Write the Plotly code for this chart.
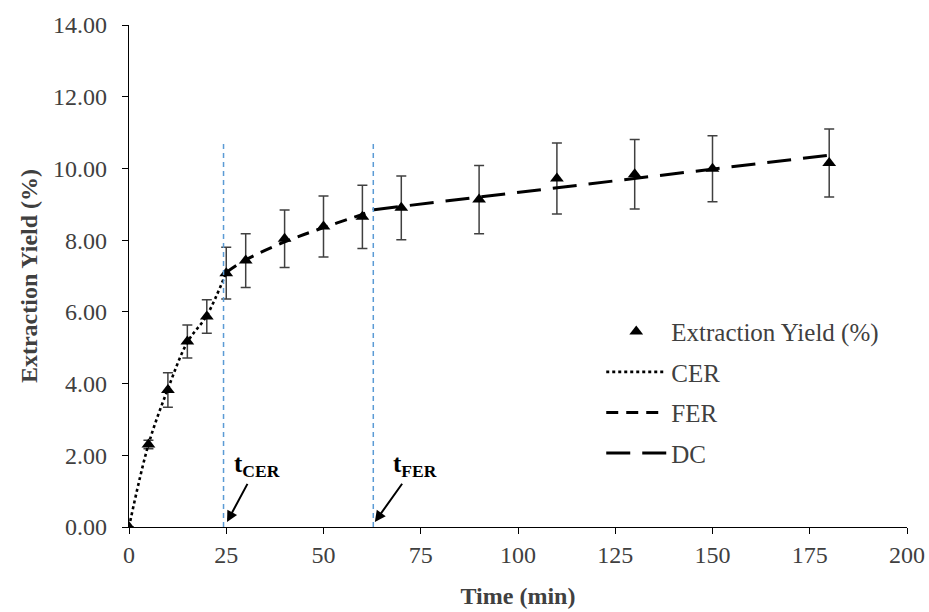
import plotly.graph_objects as go

# Data
time = [0, 5, 10, 15, 20, 25, 30, 40, 50, 60, 70, 90, 110, 130, 150, 180]
yield_pct = [0.0, 2.30, 3.82, 5.17, 5.87, 7.08, 7.43, 8.04, 8.38, 8.65, 8.90, 9.13, 9.72, 9.84, 9.99, 10.15]
yield_err = [0.0, 0.12, 0.48, 0.46, 0.47, 0.72, 0.75, 0.80, 0.85, 0.88, 0.89, 0.95, 0.99, 0.97, 0.92, 0.95]

cer_x = [0, 5, 10, 15, 20, 25]
cer_y = [0.0, 2.30, 3.85, 5.15, 5.90, 7.10]
fer_x = [25, 30, 40, 50, 60, 63]
fer_y = [7.10, 7.45, 7.95, 8.35, 8.72, 8.85]
dc_x = [63, 180]
dc_y = [8.85, 10.37]

t_cer = 24.3
t_fer = 62.8
vline_top = 10.7

font_family = "Liberation Serif, Times New Roman, serif"

fig = go.Figure()

fig.add_trace(go.Scatter(
    x=time, y=yield_pct, mode="markers", name="Extraction Yield (%)",
    marker=dict(symbol="triangle-up", size=12, color="black"),
    error_y=dict(type="data", array=yield_err, visible=True, color="#404040", thickness=1.5, width=5),
    legendgroup="a",
))
fig.add_trace(go.Scatter(
    x=cer_x, y=cer_y, mode="lines", name="CER", line_shape="spline",
    line=dict(color="black", width=2.6, dash="dot"), legendgroup="b",
))
fig.add_trace(go.Scatter(
    x=fer_x, y=fer_y, mode="lines", name="FER", line_shape="spline",
    line=dict(color="black", width=3, dash="12px,8px"), legendgroup="c",
))
fig.add_trace(go.Scatter(
    x=dc_x, y=dc_y, mode="lines", name="DC",
    line=dict(color="black", width=3, dash="24px,12px"), legendgroup="d",
))

# vertical reference lines
for xv in (t_cer, t_fer):
    fig.add_trace(go.Scatter(
        x=[xv, xv], y=[0, vline_top], mode="lines", showlegend=False,
        line=dict(color="#5b9bd5", width=1.5, dash="5px,4px"), hoverinfo="skip",
    ))

annotations = [
    dict(x=25.2, y=0.14, ax=30, ay=-56, text="<b>t<sub>CER</sub></b>", showarrow=True,
         arrowhead=2, arrowsize=1.1, arrowwidth=2, arrowcolor="black", startstandoff=1,
         font=dict(family=font_family, size=25, color="black")),
    dict(x=63.2, y=0.14, ax=40, ay=-56, text="<b>t<sub>FER</sub></b>", showarrow=True,
         arrowhead=2, arrowsize=1.1, arrowwidth=2, arrowcolor="black", startstandoff=1,
         font=dict(family=font_family, size=25, color="black")),
]

fig.update_layout(
    width=929, height=612,
    margin=dict(l=129, r=22, t=25, b=85),
    paper_bgcolor="white", plot_bgcolor="white",
    font=dict(family=font_family, size=24, color="#404040"),
    showlegend=True,
    legend=dict(x=0.607, y=0.435, xanchor="left", yanchor="top",
                font=dict(family=font_family, size=25, color="#404040"),
                traceorder="grouped", tracegroupgap=5, itemwidth=60,
                bgcolor="rgba(0,0,0,0)"),
    annotations=annotations,
    xaxis=dict(range=[0, 200], tickvals=list(range(0, 201, 25)), automargin=False,
               showline=True, linecolor="black", linewidth=1.3,
               ticks="outside", ticklen=6, tickcolor="black",
               showgrid=False, zeroline=False,
               title=dict(text="<b>Time (min)</b>", standoff=20,
                          font=dict(family=font_family, size=24, color="#404040"))),
    yaxis=dict(range=[0, 14], tickvals=list(range(0, 15, 2)), tickformat=".2f", automargin=False,
               showline=True, linecolor="black", linewidth=1.3,
               ticks="outside", ticklen=6, tickcolor="black", ticklabelstandoff=10,
               showgrid=False, zeroline=False,
               title=dict(text="<b>Extraction Yield (%)</b>", standoff=8,
                          font=dict(family=font_family, size=24, color="#404040"))),
)

fig.write_html("out.html")
